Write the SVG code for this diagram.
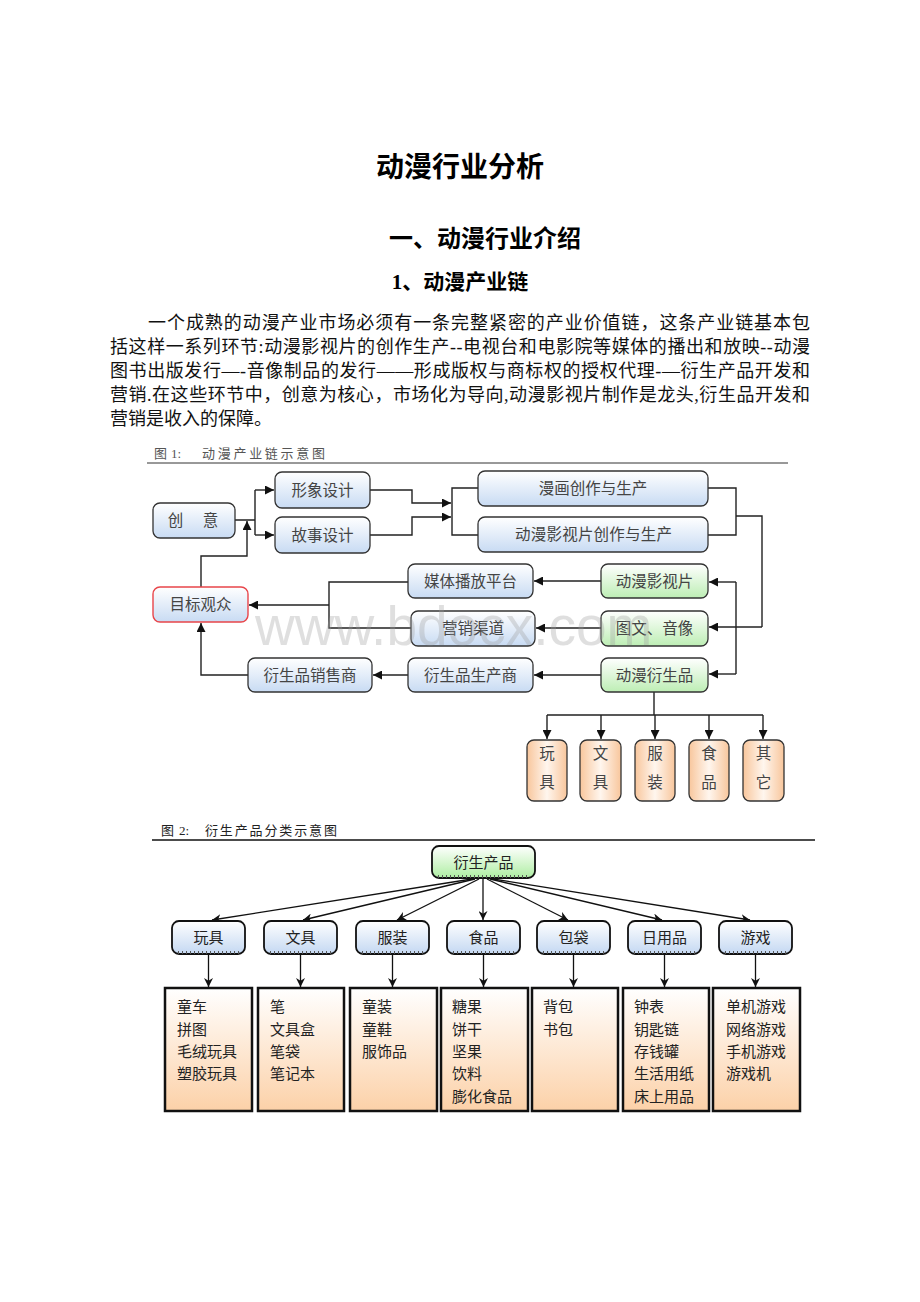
<svg xmlns="http://www.w3.org/2000/svg" width="920" height="1302" viewBox="0 0 920 1302">
<style>
.h {font-family:"Liberation Serif","Noto Sans CJK SC",serif; font-weight:bold; fill:#000; text-anchor:middle}
.p {font-family:"Liberation Serif","Noto Sans CJK SC",serif; font-size:18px; fill:#111}
.cap1 {font-family:"Liberation Serif","Noto Sans CJK SC",serif; font-size:13px; fill:#555}
.cap2 {font-family:"Liberation Serif","Noto Sans CJK SC",serif; font-size:13px; fill:#222}
.n {font-family:"Liberation Serif","Noto Sans CJK SC",serif; font-size:15.5px; fill:#444; text-anchor:middle}
.m {font-family:"Liberation Serif","Noto Sans CJK SC",serif; font-size:15px; fill:#222; text-anchor:middle}
.l {font-family:"Liberation Serif","Noto Sans CJK SC",serif; font-size:15px; fill:#222}
.bb {fill:url(#gBlue); stroke:#333; stroke-width:1.3}
.gb {fill:url(#gGreen); stroke:#333; stroke-width:1.3}
.pb {fill:url(#gPeach); stroke:#333; stroke-width:1.3}
.b2 {fill:url(#gBlue2); stroke:#111; stroke-width:1.8}
.g2 {fill:url(#gGreen2); stroke:#111; stroke-width:1.8}
.lb {fill:url(#gList); stroke:#111; stroke-width:2.5}
.sh {stroke:#555; stroke-width:3; stroke-dasharray:1 3; fill:none}
.c {fill:none; stroke:#222; stroke-width:1.4}
.c2 {fill:none; stroke:#111; stroke-width:1.3}
</style>
<defs>
<linearGradient id="gBlue" x1="0" y1="0" x2="0" y2="1"><stop offset="0" stop-color="#ffffff"/><stop offset="1" stop-color="#c8dbf3"/></linearGradient>
<linearGradient id="gGreen" x1="0" y1="0" x2="0" y2="1"><stop offset="0" stop-color="#ffffff"/><stop offset="1" stop-color="#bdeeb4"/></linearGradient>
<linearGradient id="gPeach" x1="0" y1="0" x2="1" y2="0"><stop offset="0" stop-color="#f8c69c"/><stop offset="0.5" stop-color="#fff6ee"/><stop offset="1" stop-color="#f8c69c"/></linearGradient>
<linearGradient id="gBlue2" x1="0" y1="0" x2="0" y2="1"><stop offset="0" stop-color="#ffffff"/><stop offset="1" stop-color="#c4d8f2"/></linearGradient>
<linearGradient id="gGreen2" x1="0" y1="0" x2="0" y2="1"><stop offset="0" stop-color="#ffffff"/><stop offset="1" stop-color="#aeeea2"/></linearGradient>
<linearGradient id="gList" x1="0" y1="0" x2="0" y2="1"><stop offset="0" stop-color="#ffffff"/><stop offset="1" stop-color="#fcd1a8"/></linearGradient>
<marker id="a" viewBox="0 0 10 10" refX="10" refY="5" markerWidth="9" markerHeight="9" markerUnits="userSpaceOnUse" orient="auto"><path d="M0,0 L10,5 L0,10 z" fill="#111"/></marker>
<marker id="a2" viewBox="0 0 10 10" refX="10" refY="5" markerWidth="9" markerHeight="9" markerUnits="userSpaceOnUse" orient="auto"><path d="M0,0 L10,5 L0,10 L3,5 z" fill="#111"/></marker>
</defs>
<rect width="920" height="1302" fill="#fff"/>

<g id="headings">
<text class="h" x="460" y="177" font-size="28">动漫行业分析</text>
<text class="h" x="485" y="247" font-size="24">一、动漫行业介绍</text>
<text class="h" x="460" y="289" font-size="21">1、动漫产业链</text>
</g>

<g id="paragraph">
<text class="p" x="148" y="329" textLength="662" lengthAdjust="spacing">一个成熟的动漫产业市场必须有一条完整紧密的产业价值链，这条产业链基本包</text>
<text class="p" x="110" y="353" textLength="700" lengthAdjust="spacing">括这样一系列环节:动漫影视片的创作生产--电视台和电影院等媒体的播出和放映--动漫</text>
<text class="p" x="110" y="377" textLength="700" lengthAdjust="spacing">图书出版发行—-音像制品的发行——形成版权与商标权的授权代理-—衍生产品开发和</text>
<text class="p" x="110" y="401" textLength="700" lengthAdjust="spacing">营销.在这些环节中，创意为核心，市场化为导向,动漫影视片制作是龙头,衍生品开发和</text>
<text class="p" x="110" y="425">营销是收入的保障。</text>
</g>

<g id="caption1">
<text class="cap1" x="154" y="458">图</text>
<text class="cap1" x="171" y="458">1:</text>
<text class="cap1" x="202" y="458" textLength="123" lengthAdjust="spacing">动漫产业链示意图</text>
<line x1="147" y1="463" x2="788" y2="463" stroke="#333" stroke-width="1"/>
</g>

<g id="connectors1">
<path class="c" d="M235,520 H255 M255,490 V535"/>
<path class="c" d="M255,490 H274" marker-end="url(#a)"/>
<path class="c" d="M255,535 H274" marker-end="url(#a)"/>
<path class="c" d="M201,587 V556 H247 V521" marker-end="url(#a)"/>
<path class="c" d="M370,490 H412 V503 H451" marker-end="url(#a)"/>
<path class="c" d="M370,535 H412 V517 H451" marker-end="url(#a)"/>
<path class="c" d="M478,488 H452 V535 H478"/>
<path class="c" d="M708,488 H736 V535 H708 M736,516 H762 V627"/>
<path class="c" d="M762,627 H709" marker-end="url(#a)"/>
<path class="c" d="M736,582 V674"/>
<path class="c" d="M736,582 H709" marker-end="url(#a)"/>
<path class="c" d="M736,674 H709" marker-end="url(#a)"/>
<path class="c" d="M601,581 H534" marker-end="url(#a)"/>
<path class="c" d="M601,628 H536" marker-end="url(#a)"/>
<path class="c" d="M601,675 H534" marker-end="url(#a)"/>
<path class="c" d="M408,582 H329 V628 H411"/>
<path class="c" d="M329,605 H249" marker-end="url(#a)"/>
<path class="c" d="M408,675 H373" marker-end="url(#a)"/>
<path class="c" d="M248,675 H201 V623" marker-end="url(#a)"/>
<path class="c" d="M654,692 V715 M547,715 H763"/>
<path class="c" d="M547,715 V739" marker-end="url(#a)"/>
<path class="c" d="M601,715 V739" marker-end="url(#a)"/>
<path class="c" d="M655,715 V739" marker-end="url(#a)"/>
<path class="c" d="M709,715 V739" marker-end="url(#a)"/>
<path class="c" d="M763,715 V739" marker-end="url(#a)"/>
</g>

<g id="n-chuangyi"><rect class="bb" x="153" y="503" width="82" height="35" rx="7"/><text class="n" x="194" y="526" letter-spacing="2">创　意</text></g>
<g id="n-xingxiang"><rect class="bb" x="275" y="472" width="95" height="36" rx="7"/><text class="n" x="322.5" y="495.5">形象设计</text></g>
<g id="n-gushi"><rect class="bb" x="275" y="517" width="95" height="36" rx="7"/><text class="n" x="322.5" y="540.5">故事设计</text></g>
<g id="n-manhua"><rect class="bb" x="478" y="471" width="230" height="35" rx="7"/><text class="n" x="593" y="494">漫画创作与生产</text></g>
<g id="n-yingshi-cz"><rect class="bb" x="478" y="517" width="230" height="35" rx="7"/><text class="n" x="593.5" y="540" textLength="157" lengthAdjust="spacing">动漫影视片创作与生产</text></g>
<g id="n-meiti"><rect class="bb" x="408" y="564" width="125" height="34" rx="7"/><text class="n" x="470.5" y="586.5">媒体播放平台</text></g>
<g id="n-yingxiao"><rect class="bb" x="411" y="611" width="124" height="35" rx="7"/><text class="n" x="473" y="634">营销渠道</text></g>
<g id="n-shengchan"><rect class="bb" x="408" y="658" width="125" height="34" rx="7"/><text class="n" x="470.5" y="680.5">衍生品生产商</text></g>
<g id="n-xiaoshou"><rect class="bb" x="248" y="658" width="124" height="34" rx="7"/><text class="n" x="310" y="680.5">衍生品销售商</text></g>
<g id="n-guanzhong"><rect x="153" y="587" width="95" height="35" rx="7" fill="url(#gBlue)" stroke="#e8454a" stroke-width="1.4"/><text class="n" x="200.5" y="610">目标观众</text></g>
<g id="n-dmys"><rect class="gb" x="601" y="564" width="107" height="34" rx="7"/><text class="n" x="654.5" y="586.5">动漫影视片</text></g>
<g id="n-twyx"><rect class="gb" x="601" y="611" width="107" height="35" rx="7"/><text class="n" x="654.5" y="634">图文、音像</text></g>
<g id="n-dmysp"><rect class="gb" x="601" y="658" width="107" height="34" rx="7"/><text class="n" x="654.5" y="680.5">动漫衍生品</text></g>
<g id="n-wanju1"><rect class="pb" x="527" y="740" width="40" height="61" rx="7"/><text class="n" x="547" y="759">玩</text><text class="n" x="547" y="788">具</text></g>
<g id="n-wenju1"><rect class="pb" x="580" y="740" width="41" height="61" rx="7"/><text class="n" x="600.5" y="759">文</text><text class="n" x="600.5" y="788">具</text></g>
<g id="n-fuzhuang1"><rect class="pb" x="635" y="740" width="40" height="61" rx="7"/><text class="n" x="655" y="759">服</text><text class="n" x="655" y="788">装</text></g>
<g id="n-shipin1"><rect class="pb" x="689" y="740" width="40" height="61" rx="7"/><text class="n" x="709" y="759">食</text><text class="n" x="709" y="788">品</text></g>
<g id="n-qita1"><rect class="pb" x="743" y="740" width="41" height="61" rx="7"/><text class="n" x="763.5" y="759">其</text><text class="n" x="763.5" y="788">它</text></g>

<g id="watermark"><text x="255" y="645" font-family="Liberation Sans, Arial, sans-serif" font-size="55" fill="#9a9a9a" fill-opacity="0.32">www.bdocx.com</text></g>

<g id="caption2">
<text class="cap2" x="161" y="835">图</text>
<text class="cap2" x="179" y="835">2:</text>
<text class="cap2" x="205" y="835" textLength="132" lengthAdjust="spacing">衍生产品分类示意图</text>
<line x1="152" y1="840" x2="815" y2="840" stroke="#111" stroke-width="1.5"/>
</g>

<g id="connectors2">
<path class="c2" d="M472,879 L212,920" marker-end="url(#a2)"/>
<path class="c2" d="M475,879 L303,920" marker-end="url(#a2)"/>
<path class="c2" d="M479,879 L397,920" marker-end="url(#a2)"/>
<path class="c2" d="M483,879 V920" marker-end="url(#a2)"/>
<path class="c2" d="M487,879 L568,920" marker-end="url(#a2)"/>
<path class="c2" d="M490,879 L662,920" marker-end="url(#a2)"/>
<path class="c2" d="M493,879 L750,920" marker-end="url(#a2)"/>
<path class="c2" d="M208.5,954 V987" marker-end="url(#a2)"/>
<path class="c2" d="M300.5,954 V987" marker-end="url(#a2)"/>
<path class="c2" d="M392.5,954 V987" marker-end="url(#a2)"/>
<path class="c2" d="M483.5,954 V987" marker-end="url(#a2)"/>
<path class="c2" d="M573.5,954 V987" marker-end="url(#a2)"/>
<path class="c2" d="M664.5,954 V987" marker-end="url(#a2)"/>
<path class="c2" d="M755.5,954 V987" marker-end="url(#a2)"/>
</g>

<g id="n-yanshengchanpin"><rect class="g2" x="432" y="846" width="103" height="32" rx="7"/><path class="sh" d="M438,876.5 H529"/><text class="m" x="483.5" y="867.5">衍生产品</text></g>
<g id="n-wanju"><rect class="b2" x="172" y="921" width="73" height="33" rx="7"/><path class="sh" d="M178,952.5 H239"/><text class="m" x="208.5" y="943">玩具</text></g>
<g id="n-wenju"><rect class="b2" x="264" y="921" width="73" height="33" rx="7"/><path class="sh" d="M270,952.5 H331"/><text class="m" x="300.5" y="943">文具</text></g>
<g id="n-fuzhuang"><rect class="b2" x="356" y="921" width="73" height="33" rx="7"/><path class="sh" d="M362,952.5 H423"/><text class="m" x="392.5" y="943">服装</text></g>
<g id="n-shipin"><rect class="b2" x="447" y="921" width="73" height="33" rx="7"/><path class="sh" d="M453,952.5 H514"/><text class="m" x="483.5" y="943">食品</text></g>
<g id="n-baodai"><rect class="b2" x="537" y="921" width="73" height="33" rx="7"/><path class="sh" d="M543,952.5 H604"/><text class="m" x="573.5" y="943">包袋</text></g>
<g id="n-riyongpin"><rect class="b2" x="628" y="921" width="73" height="33" rx="7"/><path class="sh" d="M634,952.5 H695"/><text class="m" x="664.5" y="943">日用品</text></g>
<g id="n-youxi"><rect class="b2" x="719" y="921" width="73" height="33" rx="7"/><path class="sh" d="M725,952.5 H786"/><text class="m" x="755.5" y="943">游戏</text></g>

<g id="list-wanju"><rect class="lb" x="165" y="988" width="87" height="123"/>
<text class="l" x="177" y="1011.5">童车</text><text class="l" x="177" y="1034.5">拼图</text><text class="l" x="177" y="1056.5">毛绒玩具</text><text class="l" x="177" y="1078.5">塑胶玩具</text></g>
<g id="list-wenju"><rect class="lb" x="258" y="988" width="86" height="123"/>
<text class="l" x="270" y="1011.5">笔</text><text class="l" x="270" y="1034.5">文具盒</text><text class="l" x="270" y="1056.5">笔袋</text><text class="l" x="270" y="1078.5">笔记本</text></g>
<g id="list-fuzhuang"><rect class="lb" x="350" y="988" width="87" height="123"/>
<text class="l" x="362" y="1011.5">童装</text><text class="l" x="362" y="1034.5">童鞋</text><text class="l" x="362" y="1056.5">服饰品</text></g>
<g id="list-shipin"><rect class="lb" x="441" y="988" width="87" height="123"/>
<text class="l" x="452" y="1011.5">糖果</text><text class="l" x="452" y="1034.5">饼干</text><text class="l" x="452" y="1056.5">坚果</text><text class="l" x="452" y="1078.5">饮料</text><text class="l" x="452" y="1101.5">膨化食品</text></g>
<g id="list-baodai"><rect class="lb" x="532" y="988" width="86" height="123"/>
<text class="l" x="543" y="1011.5">背包</text><text class="l" x="543" y="1034.5">书包</text></g>
<g id="list-riyongpin"><rect class="lb" x="623" y="988" width="86" height="123"/>
<text class="l" x="634" y="1011.5">钟表</text><text class="l" x="634" y="1034.5">钥匙链</text><text class="l" x="634" y="1056.5">存钱罐</text><text class="l" x="634" y="1078.5">生活用纸</text><text class="l" x="634" y="1101.5">床上用品</text></g>
<g id="list-youxi"><rect class="lb" x="713" y="988" width="87" height="123"/>
<text class="l" x="726" y="1011.5">单机游戏</text><text class="l" x="726" y="1034.5">网络游戏</text><text class="l" x="726" y="1056.5">手机游戏</text><text class="l" x="726" y="1078.5">游戏机</text></g>
</svg>
